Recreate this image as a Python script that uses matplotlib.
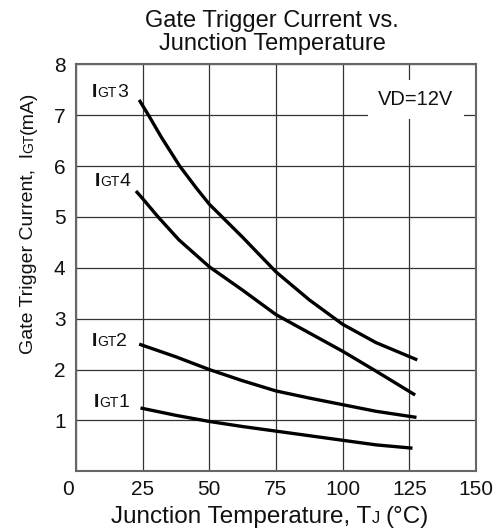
"""Gate trigger current vs. junction temperature (datasheet style chart)."""

import matplotlib

matplotlib.use("Agg")
import matplotlib.pyplot as plt
from matplotlib.transforms import ScaledTranslation, offset_copy

plt.rcParams["font.family"] = ["Liberation Sans", "DejaVu Sans"]

# values (temperature in degC, current in mA)
igt3_temp = [23.7, 27.2, 32.1, 38.9, 45.1, 50, 62.5, 75, 87.5, 100, 112.5, 128]
igt3_ma = [7.3, 7.0, 6.56, 6.0, 5.57, 5.25, 4.6, 3.92, 3.37, 2.89, 2.53, 2.19]

igt4_temp = [22.5, 25, 30.8, 38.6, 50, 62.5, 75, 87.5, 100, 112.5, 127.2]
igt4_ma = [5.51, 5.36, 5.0, 4.55, 4.02, 3.56, 3.08, 2.72, 2.36, 1.97, 1.5]

igt2_temp = [23.7, 37.5, 50, 62.5, 75, 87.5, 100, 112.5, 127.7]
igt2_ma = [2.5, 2.25, 2.0, 1.78, 1.58, 1.44, 1.31, 1.18, 1.06]

igt1_temp = [24.2, 37.5, 50, 62.5, 75, 87.5, 100, 112.5, 126.2]
igt1_ma = [1.245, 1.1, 0.98, 0.88, 0.79, 0.70, 0.61, 0.52, 0.455]

curve_names = ["3", "4", "2", "1"]
label_pos = [(6.1, 7.36), (6.9, 5.61), (5.9, 2.47), (6.75, 1.26)]

x_ticks = [0, 25, 50, 75, 100, 125, 150]
y_ticks = [1, 2, 3, 4, 5, 6, 7, 8]

INK = "#111111"


def _width(fig, s, size, weight="normal"):
    t = fig.text(0, 0, s, fontsize=size, fontweight=weight)
    w = t.get_window_extent(renderer=fig.canvas.get_renderer()).width
    t.remove()
    return w


def rich_text(ax, x, y, parts, transform, rotation=0, centered=False, gaps=None):
    """Draw pieces of text with different sizes on a shared baseline."""
    fig = ax.figure
    gaps = gaps or [0] * len(parts)
    widths = [_width(fig, s, size, weight) for s, size, weight in parts]
    total = sum(widths) + sum(gaps)
    pos = -total / 2 if centered else 0
    for (s, size, weight), w, g in zip(parts, widths, gaps):
        pos += g
        if rotation:
            tr = offset_copy(transform, fig, x=0, y=pos, units="dots")
        else:
            tr = offset_copy(transform, fig, x=pos, y=0, units="dots")
        ax.text(x, y, s, transform=tr, fontsize=size, fontweight=weight,
                rotation=rotation, rotation_mode="anchor",
                ha="left", va="baseline", color=INK, clip_on=False)
        pos += w


fig = plt.figure(figsize=(4.95, 5.31), dpi=100)
ax = fig.add_axes([0.1535, 0.1124, 0.808, 0.7665])

for temp, ma in [(igt3_temp, igt3_ma), (igt4_temp, igt4_ma),
                 (igt2_temp, igt2_ma), (igt1_temp, igt1_ma)]:
    ax.plot(temp, ma, color="black", lw=2.4, solid_capstyle="butt",
            solid_joinstyle="round", zorder=3)

ax.set_xlim(0, 150)
ax.set_ylim(0, 8)
ax.set_xticks(x_ticks)
ax.set_yticks(y_ticks)
ax.set_xticklabels([str(v) for v in x_ticks])
ax.set_yticklabels([str(v) for v in y_ticks])
ax.tick_params(length=0, labelsize=15, labelcolor=INK)
ax.tick_params(axis="x", pad=6)
ax.tick_params(axis="y", pad=7.5)
ax.grid(True, color="#333333", lw=0.9)
ax.set_axisbelow(True)
for sp in ax.spines.values():
    sp.set_color("#666666")
    sp.set_linewidth(1.5)

# the "0" sits a little left of the axis corner
zero = ax.get_xticklabels()[0]
zero.set_transform(zero.get_transform() + ScaledTranslation(-0.08, 0, fig.dpi_scale_trans))

for name, (lx, ly) in zip(curve_names, label_pos):
    rich_text(ax, lx, ly, [("I", 14, "bold"), ("GT", 10, "normal"), (name, 14, "normal")],
              ax.transData)

ax.text(127.5, 7.3, "VD=12V", fontsize=14.5, ha="center", va="center", color=INK,
        bbox=dict(boxstyle="square,pad=0.5", facecolor="white", edgecolor="none"),
        zorder=4)

ax.text(0.49, 1.092, "Gate Trigger Current vs.", transform=ax.transAxes,
        fontsize=17, ha="center", va="baseline", color=INK)
ax.text(0.49, 1.035, "Junction Temperature", transform=ax.transAxes,
        fontsize=17, ha="center", va="baseline", color=INK)

rich_text(ax, 0.485, -0.128,
          [("Junction Temperature, T", 17.5, "normal"), ("J", 12, "normal"),
           ("(°C)", 17.5, "normal")],
          ax.transAxes, centered=True, gaps=[0, 0, 6])

rich_text(ax, -0.1075, 0.611,
          [("Gate Trigger Current,  I", 14, "normal"), ("GT", 10, "normal"),
           ("(mA)", 14, "normal")],
          ax.transAxes, rotation=90, centered=True, gaps=[0, 0, 0])

fig.savefig("out.png", dpi=100)
